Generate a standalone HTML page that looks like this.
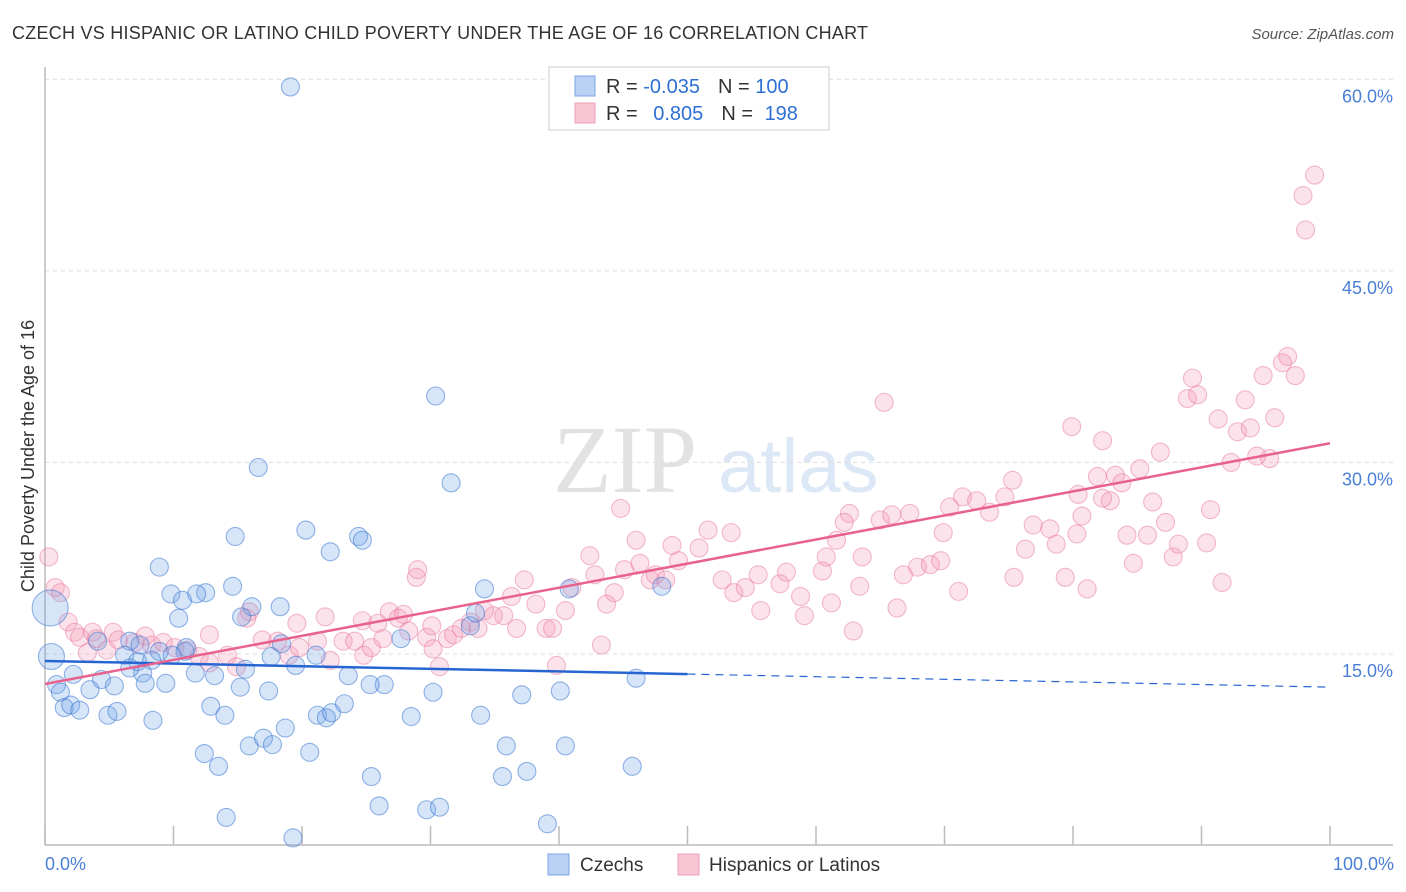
<!DOCTYPE html>
<html><head><meta charset="utf-8"><style>
body{margin:0;background:#fff;font-family:"Liberation Sans",sans-serif;}
svg{display:block}
</style></head><body>
<svg id="chart" width="1406" height="892">
<text x="12" y="39" font-size="18" fill="#333" textLength="856" lengthAdjust="spacing">CZECH VS HISPANIC OR LATINO CHILD POVERTY UNDER THE AGE OF 16 CORRELATION CHART</text>
<text x="1394" y="39" font-size="15" fill="#555" font-style="italic" text-anchor="end">Source: ZipAtlas.com</text>
<g>
<text x="553" y="492" font-family="Liberation Serif, serif" font-size="96" fill="#e2e2e2">ZIP</text>
<text x="718" y="492" font-size="76" fill="#dce8f5">atlas</text>
</g>
<g id="grid"></g>
<g id="axes"></g>
<g id="pink"></g>
<g id="blue"></g>
<g id="trends"></g>
<text transform="translate(34,456) rotate(-90)" font-size="18" fill="#333" text-anchor="middle">Child Poverty Under the Age of 16</text>
<text x="45" y="870" font-size="18" fill="#4a7fd6">0.0%</text>
<text x="1394" y="870" font-size="18" fill="#4a7fd6" text-anchor="end">100.0%</text>
<g>
<rect x="549" y="67" width="280" height="63" fill="#fff" stroke="#ccc"/>
<rect x="575" y="76" width="20" height="20" fill="#b9d1f3" stroke="#7aa5e6"/>
<rect x="575" y="103" width="20" height="20" fill="#f8c5d5" stroke="#eea0ba"/>
<text x="606" y="93" font-size="20" fill="#333">R = <tspan fill="#2e6fd6">-0.035</tspan><tspan dx="18">N = </tspan><tspan fill="#2e6fd6">100</tspan></text>
<text x="606" y="120" font-size="20" fill="#333">R = <tspan fill="#2e6fd6" dx="10">0.805</tspan><tspan dx="18">N = </tspan><tspan fill="#2e6fd6" dx="6">198</tspan></text>
</g>
<g>
<rect x="548" y="854" width="21" height="21" fill="#b9d1f3" stroke="#7aa5e6"/>
<text x="580" y="871" font-size="19" fill="#333">Czechs</text>
<rect x="678" y="854" width="21" height="21" fill="#f8c5d5" stroke="#eea0ba"/>
<text x="709" y="871" font-size="19" fill="#333">Hispanics or Latinos</text>
</g>
</svg>
<script>
const yTicks=[15,30,45,60];
const yTickLabels=["15.0%","30.0%","45.0%","60.0%"];
const xTicks=[0,10,20,30,40,50,60,70,80,90,100];
const czechX=[19.1,30.4,31.6,16.6,20.3,14.8,24.4,24.7,22.2,8.9,14.6,12.5,9.8,10.7,11.8,16.1,18.3,10.4,15.3,6.6,4.1,11.0,8.9,6.2,7.2,8.3,9.9,10.9,11.7,13.2,15.6,17.6,18.4,19.5,21.1,23.6,26.4,27.7,0.5,0.4,0.9,1.2,1.5,2.0,2.7,2.2,3.5,4.4,5.4,4.9,5.6,7.6,7.8,9.4,8.4,12.9,14.0,15.2,17.4,12.4,13.5,15.9,17.0,17.7,18.7,20.6,21.2,21.9,22.3,23.3,25.3,25.4,26.0,14.1,19.3,28.5,30.2,29.7,30.7,33.9,35.9,37.1,35.6,37.5,39.1,40.1,40.5,45.7,46.0,34.2,33.1,33.5,40.8,48.0,6.6,7.4];
const czechY=[59.4,35.2,28.4,29.6,24.7,24.2,24.2,23.9,23.0,21.8,20.3,19.8,19.7,19.2,19.7,18.7,18.7,17.8,17.9,16.0,16.0,15.5,15.2,14.9,14.4,14.5,14.9,15.2,13.5,13.3,13.8,14.8,15.8,14.1,14.9,13.3,12.6,16.2,14.8,18.6,12.6,12.0,10.8,11.0,10.6,13.4,12.2,13.0,12.5,10.2,10.5,13.5,12.7,12.7,9.8,10.9,10.2,12.4,12.1,7.2,6.2,7.8,8.4,7.9,9.2,7.3,10.2,10.0,10.4,11.1,12.6,5.4,3.1,2.2,0.6,10.1,12.0,2.8,3.0,10.2,7.8,11.8,5.4,5.8,1.7,12.1,7.8,6.2,13.1,20.1,17.2,18.2,20.1,20.3,13.9,15.7];
const czechR=[9,9,9,9,9,9,9,9,9,9,9,9,9,9,9,9,9,9,9,9,9,9,9,9,9,9,9,9,9,9,9,9,9,9,9,9,9,9,13,18,9,9,9,9,9,9,9,9,9,9,9,9,9,9,9,9,9,9,9,9,9,9,9,9,9,9,9,9,9,9,9,9,9,9,9,9,9,9,9,9,9,9,9,9,9,9,9,9,9,9,9,9,9,9,9,9];
const hispX=[0.3,0.8,1.2,1.8,2.3,2.7,3.7,4.0,3.3,4.8,5.3,5.7,7.0,7.8,8.3,9.2,10.1,11.1,12.0,12.8,12.8,14.2,14.9,15.7,15.9,16.9,18.1,19.0,19.6,19.8,21.2,21.8,22.2,23.2,24.1,24.7,24.8,25.4,25.9,26.3,26.8,27.5,27.9,28.3,28.9,29.0,29.7,30.2,30.7,30.1,31.3,31.8,32.4,33.1,33.7,34.2,34.9,35.7,36.3,36.7,37.3,38.2,39.0,39.5,39.8,40.5,41.0,42.4,42.8,43.3,43.7,44.3,44.8,45.1,46.0,46.3,47.1,47.5,48.3,48.8,49.3,50.9,51.6,52.7,53.6,54.5,53.4,55.5,55.7,57.2,57.7,59.1,60.5,60.8,61.6,62.6,62.2,63.6,65.0,65.9,63.4,58.8,61.2,65.3,62.9,66.3,67.3,66.8,67.9,68.9,70.4,71.4,69.9,69.7,71.1,72.5,73.5,74.7,75.4,76.3,76.9,78.2,78.7,79.4,80.4,80.7,80.3,81.1,81.9,75.3,79.9,82.3,82.9,83.3,83.8,85.2,84.2,84.7,85.8,86.2,86.8,87.2,87.8,88.2,88.9,89.3,89.7,90.4,90.7,91.3,91.6,92.3,92.8,93.4,93.8,94.3,94.8,95.3,95.7,96.3,96.7,97.3,97.9,98.1,98.8,82.3];
const hispY=[22.6,20.2,19.8,17.5,16.7,16.3,16.7,16.2,15.1,15.3,16.7,16.1,15.9,16.4,15.7,15.9,15.5,15.3,14.8,16.5,14.3,14.9,14.0,17.8,18.3,16.1,16.0,14.9,17.4,15.5,16.0,17.9,14.5,16.0,16.0,17.6,14.9,15.5,17.4,16.2,18.3,17.8,18.1,16.8,21.0,21.6,16.3,15.4,14.0,17.2,16.2,16.5,17.0,17.5,17.0,18.4,18.0,18.0,19.5,17.0,20.8,18.9,17.0,17.0,14.1,18.4,20.2,22.7,21.2,15.7,18.9,19.8,26.4,21.6,23.9,22.1,20.8,21.2,20.8,23.5,22.3,23.3,24.7,20.8,19.8,20.2,24.5,21.2,18.4,20.5,21.4,18.0,21.5,22.6,23.9,26.0,25.3,22.6,25.5,25.9,20.3,19.5,19.0,34.7,16.8,18.6,26.0,21.2,21.8,22.0,26.5,27.3,24.5,22.3,19.9,27.0,26.1,27.3,21.0,23.2,25.1,24.8,23.6,21.0,27.5,25.8,24.4,20.1,28.9,28.6,32.8,31.7,27.0,29.0,28.4,29.5,24.3,22.1,24.3,26.9,30.8,25.3,22.6,23.6,35.0,36.6,35.3,23.7,26.3,33.4,20.6,30.0,32.4,34.9,32.7,30.5,36.8,30.3,33.5,37.8,38.3,36.8,50.9,48.2,52.5,27.2];
const czechTrend=[14.45,12.4];
const czechSolidEnd=50;
const hispTrend=[12.65,31.5];
const X0=45,X1=1330,YB=845.5,YPX=12.77;
const xs=v=>X0+(X1-X0)*v/100, ys=v=>YB-v*YPX;
const NS="http://www.w3.org/2000/svg";
function mk(tag,parent,attrs){const e=document.createElementNS(NS,tag);for(const k in attrs)e.setAttribute(k,attrs[k]);parent.appendChild(e);return e;}
const grid=document.getElementById('grid'),axes=document.getElementById('axes');
yTicks.forEach((t,i)=>{
  const l=mk('line',grid,{x1:45,x2:1393,y1:ys(t),y2:ys(t),stroke:'#ddd','stroke-dasharray':'4 4'});
  
  
  const tx=mk('text',axes,{x:1393,y:ys(t)+23,'font-size':18,fill:'#4a7fd6','text-anchor':'end'});
  tx.textContent=yTickLabels[i];
  
  
});
mk('line',axes,{x1:45,x2:45,y1:67,y2:845,stroke:'#bbb','stroke-width':1.5});
mk('line',axes,{x1:45,x2:1393,y1:845,y2:845,stroke:'#bbb','stroke-width':1.5});
xTicks.forEach(t=>{
  const l=mk('line',axes,{x1:xs(t),x2:xs(t),y1:826,y2:845,stroke:'#bbb','stroke-width':1.5});
  
  
});
function dots(g,X,Y,R,fill,stroke,name){
  X.forEach((x,i)=>{
    const c=mk('circle',g,{cx:xs(x),cy:ys(Y[i]),r:R?R[i]:9,fill:fill,stroke:stroke,'stroke-width':1.1});
    
    
  });
}
dots(document.getElementById('pink'),hispX,hispY,null,'rgba(244,150,180,0.28)','rgba(232,120,160,0.5)','hispanic-point');
dots(document.getElementById('blue'),czechX,czechY,czechR,'rgba(110,160,230,0.28)','rgba(60,120,210,0.55)','czech-point');
const tr=document.getElementById('trends');
const cy=x=>czechTrend[0]+(czechTrend[1]-czechTrend[0])*x/100;
const a=mk('line',tr,{x1:xs(0),y1:ys(cy(0)),x2:xs(czechSolidEnd),y2:ys(cy(czechSolidEnd)),stroke:'#2766d1','stroke-width':2.5});


const b=mk('line',tr,{x1:xs(czechSolidEnd),y1:ys(cy(czechSolidEnd)),x2:xs(100),y2:ys(cy(100)),stroke:'#2766d1','stroke-width':1.2,'stroke-dasharray':'8 6'});


const p=mk('line',tr,{x1:xs(0),y1:ys(hispTrend[0]),x2:xs(100),y2:ys(hispTrend[1]),stroke:'#e8628e','stroke-width':2.5});


</script>
</body></html>
